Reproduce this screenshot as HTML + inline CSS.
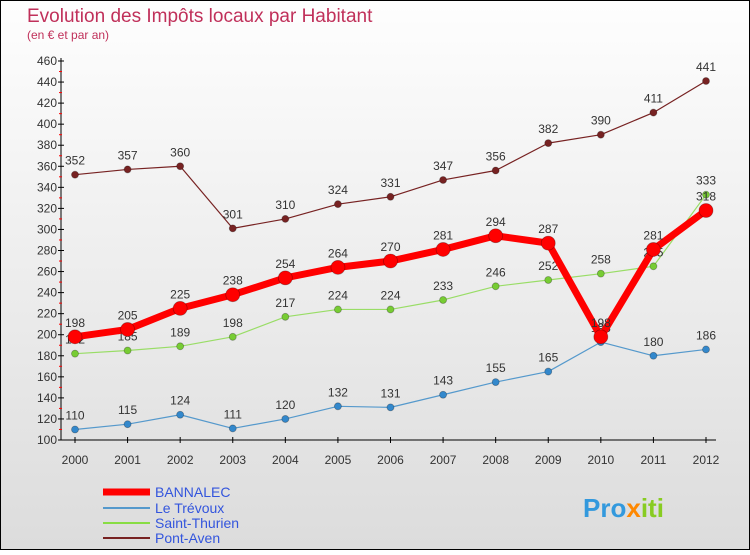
<!DOCTYPE html>
<html><head><meta charset="utf-8"><style>
body{margin:0;width:750px;height:550px;overflow:hidden;font-family:"Liberation Sans",sans-serif}
</style></head><body>
<svg width="750" height="550" xmlns="http://www.w3.org/2000/svg">
<defs><linearGradient id="bg" x1="0" y1="0" x2="0" y2="1"><stop offset="0" stop-color="#fefefe"/><stop offset="1" stop-color="#dcdcdc"/></linearGradient></defs>
<rect x="0.5" y="0.5" width="749" height="549" fill="url(#bg)" stroke="#000"/>
<text x="27" y="22" font-size="19" fill="#c0305a">Evolution des Impôts locaux par Habitant</text>
<text x="27" y="39" font-size="12" fill="#c0305a">(en € et par an)</text>
<g id="axes"></g>
<g id="series"></g>
<g font-size="14">
<line x1="103" y1="492" x2="150" y2="492" stroke="#f00" stroke-width="7"/>
<text x="155" y="497" fill="#3355dd">BANNALEC</text>
<line x1="103" y1="508" x2="150" y2="508" stroke="#5599cc" stroke-width="2"/>
<text x="155" y="513" fill="#3355dd">Le Trévoux</text>
<line x1="103" y1="523" x2="150" y2="523" stroke="#88dd44" stroke-width="2"/>
<text x="155" y="528" fill="#3355dd">Saint-Thurien</text>
<line x1="103" y1="538" x2="150" y2="538" stroke="#772222" stroke-width="2"/>
<text x="155" y="543" fill="#3355dd">Pont-Aven</text>
</g>
<text x="583" y="517" font-size="26" font-weight="bold"><tspan fill="#3399dd">Pro</tspan><tspan fill="#ff8800">x</tspan><tspan fill="#88cc22">iti</tspan></text>
</svg>
<script>
const years=[2000,2001,2002,2003,2004,2005,2006,2007,2008,2009,2010,2011,2012];
const yTicks=[100,120,140,160,180,200,220,240,260,280,300,320,340,360,380,400,420,440,460];
const bannalec=[198,205,225,238,254,264,270,281,294,287,198,281,318];
const leTrevoux=[110,115,124,111,120,132,131,143,155,165,193,180,186];
const saintThurien=[182,185,189,198,217,224,224,233,246,252,258,265,333];
const pontAven=[352,357,360,301,310,324,331,347,356,382,390,411,441];
const NS="http://www.w3.org/2000/svg";
function X(i){return 75+i*(706-75)/12;}
function Y(v){return 440-(v-100)*(379/360);}
function mk(tag,attrs,parent){const e=document.createElementNS(NS,tag);for(const k in attrs)e.setAttribute(k,attrs[k]);parent.appendChild(e);return e;}
const ax=document.getElementById('axes');
let a=mk('line',{x1:61,y1:58,x2:61,y2:440,stroke:'#000'},ax);


a=mk('line',{x1:61,y1:440,x2:716,y2:440,stroke:'#000'},ax);


yTicks.forEach((t,i)=>{
  mk('line',{x1:58,y1:Y(t),x2:64,y2:Y(t),stroke:'#000'},ax);
  if(i<yTicks.length-1)mk('line',{x1:59,y1:Y(t+10),x2:62,y2:Y(t+10),stroke:'#f00'},ax);
  const l=mk('text',{x:57,y:Y(t)+4,'font-size':12,'text-anchor':'end',fill:'#333'},ax);
  l.textContent=t;
  
  
});
years.forEach((yr,i)=>{
  mk('line',{x1:X(i),y1:437,x2:X(i),y2:443,stroke:'#000'},ax);
  const l=mk('text',{x:X(i),y:464,'font-size':12,'text-anchor':'middle',fill:'#333'},ax);
  l.textContent=yr;
  
  
});
const sg=document.getElementById('series');
function draw(vals,name,color,w,r,dot){
  const g=mk('g',{},sg);
  
  
  const p=mk('polyline',{points:vals.map((v,i)=>X(i)+','+Y(v)).join(' '),fill:'none',stroke:color,'stroke-width':w,'stroke-linejoin':'round'},g);
  
  
  vals.forEach((v,i)=>{
    const c=mk('circle',{cx:X(i),cy:Y(v),r:r,fill:dot,stroke:'rgba(0,0,0,0.3)','stroke-width':0.8},g);
    
    
    const t=mk('text',{x:X(i),y:Y(v)-10,'font-size':12,'text-anchor':'middle',fill:'#333'},g);
    t.textContent=v;
    
    
  });
}
draw(pontAven,'pont-aven','#772222',1.2,3.5,'#772222');
draw(leTrevoux,'le-trevoux','#5599cc',1.2,3.5,'#3388cc');
draw(saintThurien,'saint-thurien','#99dd66',1.2,3.5,'#77cc33');
draw(bannalec,'bannalec','#ff0000',7,7,'#ff0000');
</script>
</body></html>
